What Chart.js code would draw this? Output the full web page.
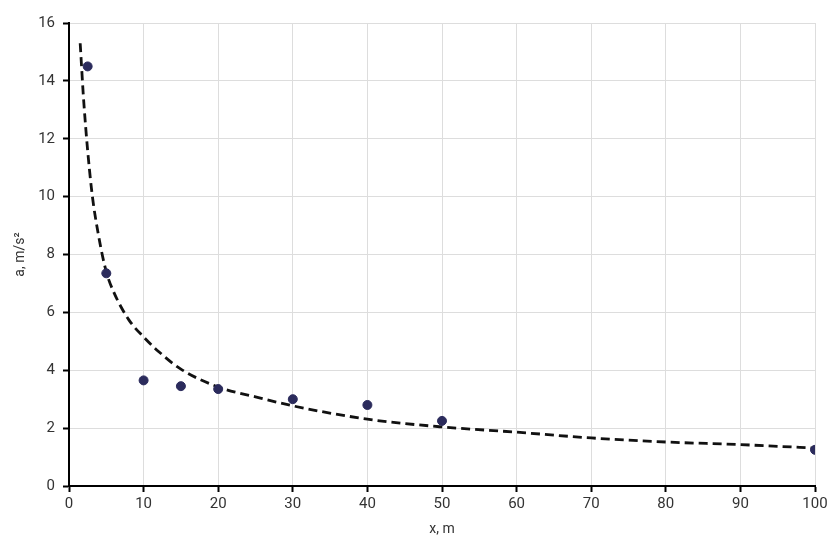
<!DOCTYPE html>
<html>
<head>
<meta charset="utf-8">
<script src="https://cdn.jsdelivr.net/npm/chart.js@4/dist/chart.umd.min.js"></script>
<style>
    html, body { margin: 0; padding: 0; background: #ffffff; }
    #wrap { width: 827px; height: 540px; position: relative; }
</style>
</head>
<body>
<div id="wrap"><canvas id="accelChart"></canvas></div>
<script>
// measured points
const measX = [2.5, 5, 10, 15, 20, 30, 40, 50, 100];
const measA = [14.5, 7.35, 3.65, 3.45, 3.35, 3.0, 2.8, 2.25, 1.25];

// dashed trend line
const trendX = [1.5, 2, 3, 4, 5, 6, 8, 10, 12, 15, 20, 25, 30, 40, 50, 60, 70, 80, 90, 100];
const trendA = [15.3, 13.2, 10.3, 8.6, 7.4, 6.7, 5.75, 5.15, 4.65, 4.04, 3.42, 3.08, 2.77, 2.31, 2.04, 1.86, 1.66, 1.52, 1.43, 1.31];

// axes
const xTicks = [0, 10, 20, 30, 40, 50, 60, 70, 80, 90, 100];
const yTicks = [0, 2, 4, 6, 8, 10, 12, 14, 16];

const tickFont = { family: 'Roboto, "Open Sans", sans-serif', size: 15 };
const titleFont = { family: 'Roboto, "Open Sans", sans-serif', size: 14 };

function toPoints(xs, ys) {
    return xs.map((x, i) => ({ x: x, y: ys[i] }));
}

new Chart(document.getElementById('accelChart'), {
    type: 'scatter',
    data: {
        datasets: [
            {
                label: 'measured',
                data: toPoints(measX, measA),
                backgroundColor: '#2b2b5c',
                borderColor: '#2b2b5c',
                pointRadius: 4.5,
                order: 1
            },
            {
                type: 'line',
                label: 'trend',
                data: toPoints(trendX, trendA),
                borderColor: '#111111',
                borderWidth: 2.8,
                borderDash: [9, 5],
                pointRadius: 0,
                cubicInterpolationMode: 'monotone',
                fill: false,
                order: 2
            }
        ]
    },
    options: {
        responsive: true,
        maintainAspectRatio: false,
        animation: false,
        layout: {
            padding: { top: 23, right: 12, bottom: 0, left: 12 }
        },
        plugins: {
            legend: { display: false },
            tooltip: { enabled: false }
        },
        scales: {
            x: {
                type: 'linear',
                min: 0,
                max: 100,
                afterBuildTicks: function(scale) {
                    scale.ticks = xTicks.map(v => ({ value: v }));
                },
                afterFit: function(scale) {
                    scale.height = 54;
                    // let the "100" label hang past the plot edge
                    scale.paddingRight = 0;
                },
                grid: {
                    color: '#dddddd',
                    lineWidth: 1,
                    tickColor: '#000000',
                    tickWidth: 2,
                    tickLength: 6
                },
                border: { color: '#000000', width: 2 },
                ticks: { color: '#333333', font: tickFont, padding: 3, maxRotation: 0 },
                title: {
                    display: true,
                    text: 'x, m',
                    color: '#333333',
                    font: titleFont,
                    padding: { top: 0, bottom: 2 }
                }
            },
            y: {
                type: 'linear',
                min: 0,
                max: 16,
                afterBuildTicks: function(scale) {
                    scale.ticks = yTicks.map(v => ({ value: v }));
                },
                afterFit: function(scale) { scale.width = 57; },
                grid: {
                    color: '#dddddd',
                    lineWidth: 1,
                    tickColor: '#000000',
                    tickWidth: 2,
                    tickLength: 6
                },
                border: { color: '#000000', width: 2 },
                ticks: { color: '#333333', font: tickFont, padding: 8 },
                title: {
                    display: true,
                    text: 'a, m/s²',
                    color: '#333333',
                    font: titleFont,
                    padding: { top: 0, bottom: 0 }
                }
            }
        }
    }
});
</script>
</body>
</html>
